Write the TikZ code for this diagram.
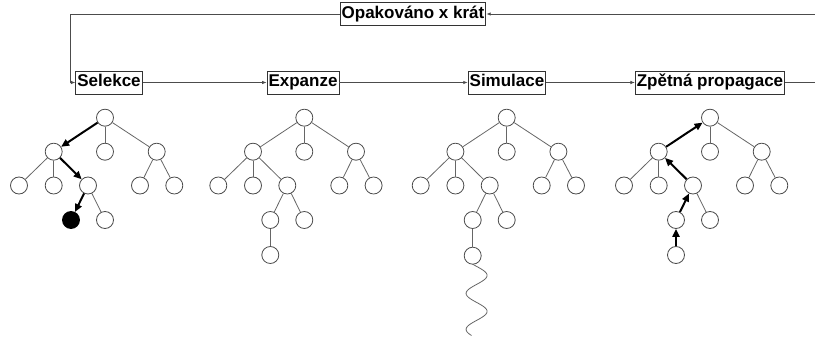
\documentclass[tikz,border=0pt]{standalone}
\usepackage{fontspec}
\setmainfont{Liberation Sans}
\usetikzlibrary{arrows.meta,calc}

\tikzset{
  stage/.style={draw=black!80, line width=0.8pt, text=black,
    font=\fontsize{17}{20}\selectfont\bfseries, inner xsep=1.5pt, inner ysep=3.5pt,
    text height=12.5pt, text depth=3.5pt},
  flow/.style={draw=black!70, line width=0.8pt, -{Latex[length=4.5pt,width=3.5pt]}},
  flowline/.style={draw=black!70, line width=0.8pt},
  vert/.style={circle, draw=black!70, line width=0.8pt, minimum size=17pt, inner sep=0pt, fill=white},
  leaf/.style={vert, fill=black, draw=black},
  edge/.style={draw=black!60, line width=0.8pt},
  path/.style={draw=black, line width=2pt, -{Triangle[length=8pt,width=7pt]}},
}

% nodes of one search tree, root placed at x = #2
\newcommand\mctsnodes[2]{%
  \node[vert] (#1a)  at (#2, 117.7) {};
  \node[vert] (#1b1) at ({#2-51.3}, 151.7) {};
  \node[vert] (#1b2) at (#2, 151.7) {};
  \node[vert] (#1b3) at ({#2+51.7}, 151.7) {};
  \node[vert] (#1c1) at ({#2-86}, 185.5) {};
  \node[vert] (#1c2) at ({#2-51.3}, 185.5) {};
  \node[vert] (#1c3) at ({#2-17}, 185.5) {};
  \node[vert] (#1c4) at ({#2+35}, 185.5) {};
  \node[vert] (#1c5) at ({#2+69.3}, 185.5) {};
  \node[vert] (#1d2) at (#2, 220) {};
}

\begin{document}
\begin{tikzpicture}[x=1pt, y=-1pt]
\useasboundingbox (0,0) rectangle (815,342);

% loop and stage boxes
\node[stage] (rep) at (413,14) {Opakováno x krát};
\node[stage] (sel) at (109,82.5) {Selekce};
\node[stage] (exp) at (303,82.5) {Expanze};
\node[stage] (sim) at (507,82.5) {Simulace};
\node[stage] (back) at (710,82.5) {Zpětná propagace};

\coordinate (inR) at (815,14);
\coordinate (outR) at (815,82.5);
\coordinate (cornerT) at (70.5,14);
\coordinate (cornerB) at (70.5,82.5);

\draw[flow] (inR) -- (rep.east);
\draw[flow] (rep.west) -- (cornerT) -- (cornerB) -- (sel.west);
\draw[flow] (sel.east) -- (exp.west);
\draw[flow] (exp.east) -- (sim.west);
\draw[flow] (sim.east) -- (back.west);
\draw[flowline] (back.east) -- (outR);

% selection
\mctsnodes{S}{105}
\node[leaf] (Sd1) at (71,220) {};
\foreach \p/\c in {a/b2,a/b3,b1/c1,b1/c2,b3/c4,b3/c5,c3/d2}
  \draw[edge] (S\p) -- (S\c);
\draw[path] (Sa) -- (Sb1);
\draw[path] (Sb1) -- (Sc3);
\draw[path] (Sc3) -- (Sd1);

% expansion
\mctsnodes{E}{304.3}
\node[vert] (Ed1) at (270.3,220) {};
\node[vert] (Ee1) at (270.3,255) {};
\foreach \p/\c in {a/b1,a/b2,a/b3,b1/c1,b1/c2,b1/c3,b3/c4,b3/c5,c3/d1,c3/d2,d1/e1}
  \draw[edge] (E\p) -- (E\c);

% simulation
\mctsnodes{M}{506.7}
\node[vert] (Md1) at (472.7,220) {};
\node[vert] (Me1) at (472.7,255.7) {};
\foreach \p/\c in {a/b1,a/b2,a/b3,b1/c1,b1/c2,b1/c3,b3/c4,b3/c5,c3/d1,c3/d2,d1/e1}
  \draw[edge] (M\p) -- (M\c);
\draw[edge] (Me1.south) plot[domain=264.2:335.5, samples=80, smooth]
  ({476.6+10.5*sin(180*(\x-266.4)/18)}, {\x});

% backpropagation
\mctsnodes{B}{710}
\node[vert] (Bd1) at (676,220) {};
\node[vert] (Be1) at (676,255) {};
\foreach \p/\c in {a/b2,a/b3,b1/c1,b1/c2,b3/c4,b3/c5,c3/d2}
  \draw[edge] (B\p) -- (B\c);
\draw[path] (Be1) -- (Bd1);
\draw[path] (Bd1) -- (Bc3);
\draw[path] (Bc3) -- (Bb1);
\draw[path] (Bb1) -- (Ba);
\end{tikzpicture}
\end{document}
